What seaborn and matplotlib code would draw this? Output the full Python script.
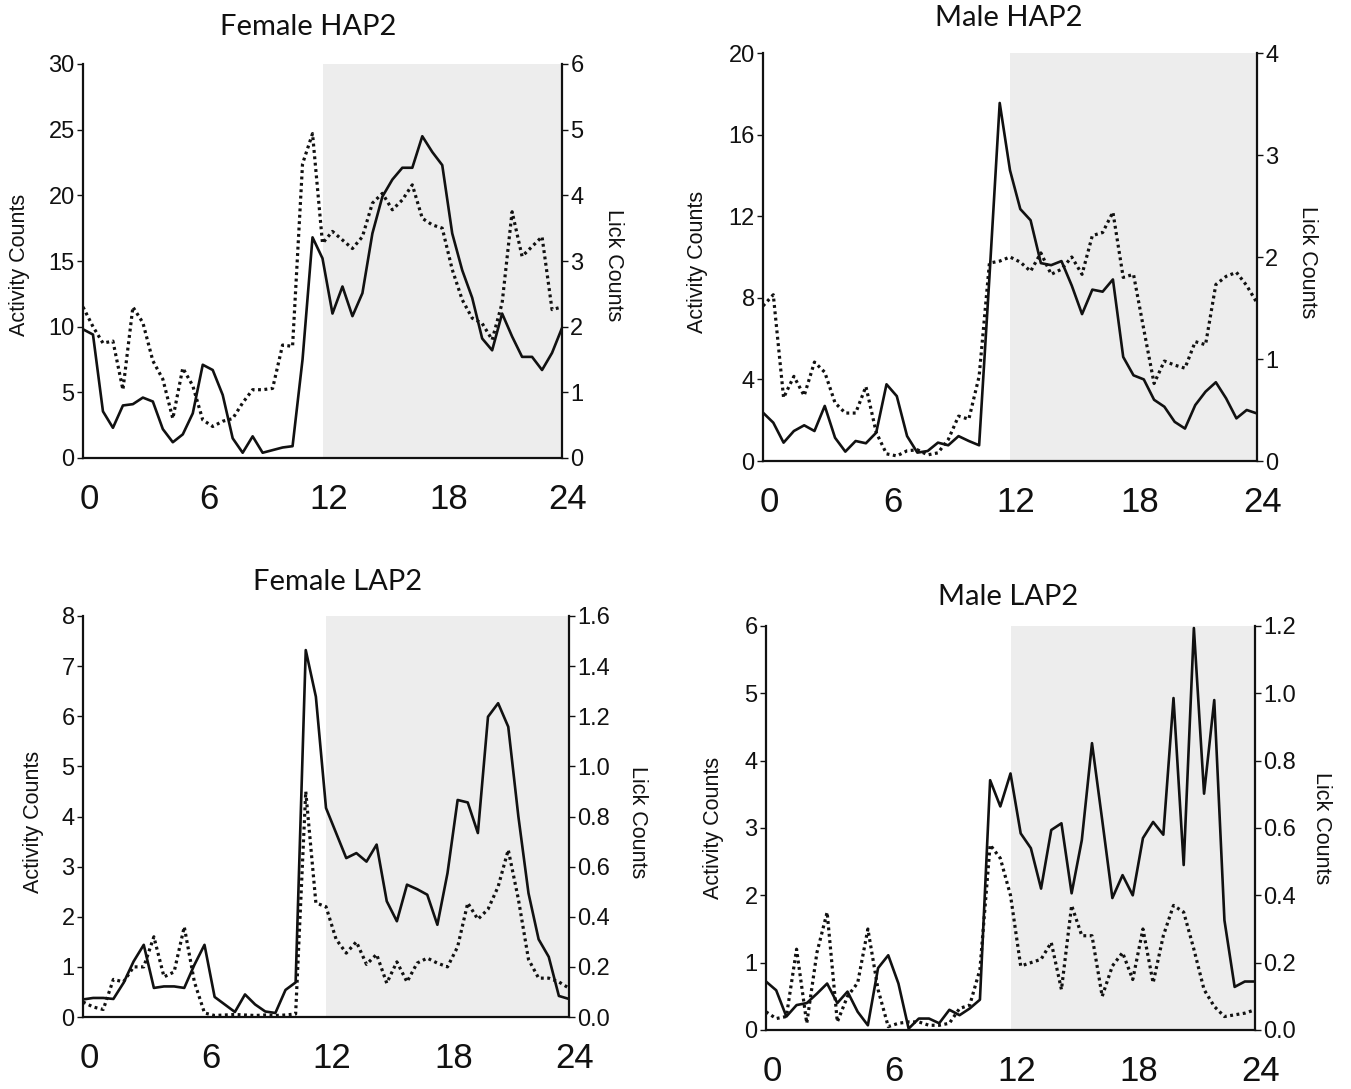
import numpy as np
import matplotlib
matplotlib.use("Agg")
import matplotlib.pyplot as plt
import matplotlib.transforms as mtransforms
import seaborn as sns

# ---------------- data (half-hour bins, 0..24 h) ----------------
hours = np.arange(0, 24.01, 0.5)

female_hap2_activity = [9.8, 9.4, 3.55, 2.3, 4.0, 4.1, 4.6, 4.3, 2.2, 1.2, 1.8, 3.4,
                        7.1, 6.7, 4.8, 1.5, 0.4, 1.65, 0.4, 0.6, 0.8, 0.9, 7.5, 16.8,
                        15.2, 11.0, 13.06, 10.8, 12.55, 17.1, 19.9, 21.2, 22.1, 22.1, 24.5, 23.3,
                        22.3, 17.1, 14.3, 12.2, 9.1, 8.2, 11.0, 9.25, 7.7, 7.7, 6.7, 8.0, 9.9]
female_hap2_lick = [2.3, 2.0, 1.75, 1.78, 1.04, 2.3, 2.06, 1.48, 1.2, 0.6, 1.37, 1.1,
                    0.58, 0.48, 0.56, 0.6, 0.84, 1.04, 1.04, 1.06, 1.72, 1.7, 4.48, 4.94,
                    3.27, 3.45, 3.32, 3.19, 3.37, 3.88, 4.03, 3.78, 3.93, 4.16, 3.65, 3.55,
                    3.5, 2.87, 2.41, 2.13, 2.05, 1.8, 2.36, 3.75, 3.07, 3.22, 3.37, 2.26, 2.3]

male_hap2_activity = [2.37, 1.88, 0.9, 1.47, 1.75, 1.47, 2.7, 1.14, 0.46, 0.98, 0.87, 1.39,
                      3.76, 3.18, 1.22, 0.41, 0.49, 0.9, 0.77, 1.22, 0.98, 0.77, 9.0, 17.55,
                      14.25, 12.35, 11.8, 9.7, 9.6, 9.8, 8.6, 7.2, 8.4, 8.3, 8.9, 5.1,
                      4.2, 4.0, 3.0, 2.66, 1.92, 1.59, 2.74, 3.4, 3.86, 3.07, 2.09, 2.5, 2.33]
male_hap2_lick = [1.52, 1.63, 0.62, 0.83, 0.64, 0.97, 0.87, 0.57, 0.47, 0.47, 0.73, 0.28,
                  0.07, 0.05, 0.1, 0.11, 0.06, 0.08, 0.21, 0.44, 0.41, 0.83, 1.94, 1.96,
                  2.0, 1.95, 1.86, 2.04, 1.83, 1.88, 2.0, 1.83, 2.21, 2.24, 2.44, 1.8,
                  1.83, 1.29, 0.76, 0.98, 0.94, 0.91, 1.17, 1.14, 1.73, 1.81, 1.85, 1.72, 1.55]

female_lap2_activity = [0.35, 0.38, 0.38, 0.36, 0.68, 1.11, 1.44, 0.58, 0.61, 0.61, 0.58, 1.04,
                        1.44, 0.4, 0.25, 0.1, 0.45, 0.25, 0.11, 0.08, 0.54, 0.69, 7.32, 6.39,
                        4.17, 3.67, 3.17, 3.27, 3.1, 3.44, 2.31, 1.91, 2.64, 2.55, 2.44, 1.84,
                        2.87, 4.33, 4.28, 3.67, 5.99, 6.26, 5.79, 4.0, 2.47, 1.55, 1.2, 0.42, 0.36]
female_lap2_lick = [0.06, 0.04, 0.03, 0.15, 0.14, 0.2, 0.2, 0.32, 0.16, 0.18, 0.36, 0.14,
                    0.016, 0.006, 0.008, 0.01, 0.008, 0.006, 0.008, 0.006, 0.008, 0.012, 0.9, 0.455,
                    0.44, 0.31, 0.255, 0.30, 0.21, 0.25, 0.135, 0.22, 0.14, 0.215, 0.235, 0.215,
                    0.2, 0.28, 0.455, 0.39, 0.43, 0.52, 0.667, 0.47, 0.23, 0.155, 0.155, 0.14, 0.115]

male_lap2_activity = [0.72, 0.59, 0.2, 0.37, 0.4, 0.54, 0.69, 0.4, 0.57, 0.27, 0.07, 0.92,
                      1.11, 0.69, 0.02, 0.17, 0.17, 0.1, 0.3, 0.22, 0.32, 0.45, 3.71, 3.32,
                      3.81, 2.92, 2.7, 2.1, 2.97, 3.07, 2.03, 2.82, 4.26, 3.12, 1.96, 2.3,
                      2.0, 2.85, 3.09, 2.9, 4.93, 2.45, 5.97, 3.51, 4.9, 1.63, 0.64, 0.72, 0.72]
male_lap2_lick = [0.054, 0.034, 0.04, 0.24, 0.02, 0.23, 0.35, 0.024, 0.1, 0.14, 0.3, 0.12,
                  0.01, 0.02, 0.024, 0.024, 0.014, 0.014, 0.02, 0.064, 0.074, 0.18, 0.55, 0.51,
                  0.4, 0.19, 0.2, 0.21, 0.26, 0.12, 0.37, 0.28, 0.28, 0.1, 0.19, 0.23,
                  0.15, 0.3, 0.14, 0.28, 0.37, 0.35, 0.24, 0.12, 0.07, 0.04, 0.045, 0.05, 0.06]

titles = ["Female HAP2", "Male HAP2", "Female LAP2", "Male LAP2"]
x_ticks = [0, 6, 12, 18, 24]
left_ticks = [[0, 5, 10, 15, 20, 25, 30], [0, 4, 8, 12, 16, 20],
              [0, 1, 2, 3, 4, 5, 6, 7, 8], [0, 1, 2, 3, 4, 5, 6]]
right_ticks = [[0, 1, 2, 3, 4, 5, 6], [0, 1, 2, 3, 4],
               [0.0, 0.2, 0.4, 0.6, 0.8, 1.0, 1.2, 1.4, 1.6],
               [0.0, 0.2, 0.4, 0.6, 0.8, 1.0, 1.2]]
right_fmt = ["{:.0f}", "{:.0f}", "{:.1f}", "{:.1f}"]
activity = [female_hap2_activity, male_hap2_activity, female_lap2_activity, male_lap2_activity]
lick = [female_hap2_lick, male_hap2_lick, female_lap2_lick, male_lap2_lick]

# ---------------- layout (pixels) ----------------
W, H = 1351, 1089
boxes = [(83, 562, 64, 458), (763, 1257, 53, 461), (83, 569, 616, 1017), (766, 1255, 626, 1030)]
title_pos = [(308, 27), (1009, 18), (338, 582), (1008, 597)]
act_label_pos = [(20, 265), (698, 262), (33, 822), (714, 828)]
lick_label_pos = [(613, 265), (1307, 262), (637, 822), (1322, 828)]

sns.set_style("white")
plt.rcParams["font.family"] = ["Liberation Sans", "DejaVu Sans"]

fig = plt.figure(figsize=(W / 100, H / 100), dpi=100)
ink = "#111111"

for i in range(4):
    l, r, t, b = boxes[i]
    ax = fig.add_axes([l / W, 1 - b / H, (r - l) / W, (b - t) / H])
    ax2 = ax.twinx()

    ax.axvspan(12, 24, color="#ededed", lw=0, zorder=0)
    sns.lineplot(x=hours, y=activity[i], ax=ax, color=ink, linewidth=1.9, legend=False)
    sns.lineplot(x=hours, y=lick[i], ax=ax2, color=ink, linewidth=2.3,
                 linestyle=(0, (0.9, 1.1)), legend=False)

    ax.set_xlim(0, 24)
    ax.set_ylim(left_ticks[i][0], left_ticks[i][-1])
    ax2.set_ylim(right_ticks[i][0], right_ticks[i][-1])
    ax.set_xticks(x_ticks)
    ax.set_xticklabels([str(v) for v in x_ticks])
    ax.set_yticks(left_ticks[i])
    ax.set_yticklabels([str(v) for v in left_ticks[i]])
    ax2.set_yticks(right_ticks[i])
    ax2.set_yticklabels([right_fmt[i].format(v) for v in right_ticks[i]])
    ax.set_xlabel("")
    ax.set_ylabel("")
    ax2.set_ylabel("")

    for a in (ax, ax2):
        for s in a.spines.values():
            s.set_color(ink)
            s.set_linewidth(1.6)
        a.spines["top"].set_visible(False)
    ax2.spines["left"].set_visible(False)
    ax2.spines["bottom"].set_visible(False)
    ax.spines["right"].set_visible(False)

    ax.tick_params(axis="x", length=0, pad=18, labelsize=25, colors=ink)
    ax.tick_params(axis="y", length=4, width=1, pad=2, labelsize=17, colors=ink, left=True)
    ax2.tick_params(axis="y", length=4, width=1, pad=2, labelsize=17, colors=ink, right=True)

    off = mtransforms.ScaledTranslation(6 / 100, 0, fig.dpi_scale_trans)
    for lab in ax.get_xticklabels():
        lab.set_transform(lab.get_transform() + off)

    tx, ty = title_pos[i]
    fig.text(tx / W, 1 - ty / H, titles[i], ha="center", va="center",
             fontsize=21, family=["Lato", "DejaVu Sans"], color=ink)
    axx, axy = act_label_pos[i]
    fig.text(axx / W, 1 - axy / H, "Activity Counts", rotation=90, ha="center", va="center",
             fontsize=15.5, color=ink)
    lx, ly = lick_label_pos[i]
    fig.text(lx / W, 1 - ly / H, "Lick Counts", rotation=-90, ha="center", va="center",
             fontsize=15.5, color=ink)

fig.savefig("out.png", dpi=100, facecolor="white")
